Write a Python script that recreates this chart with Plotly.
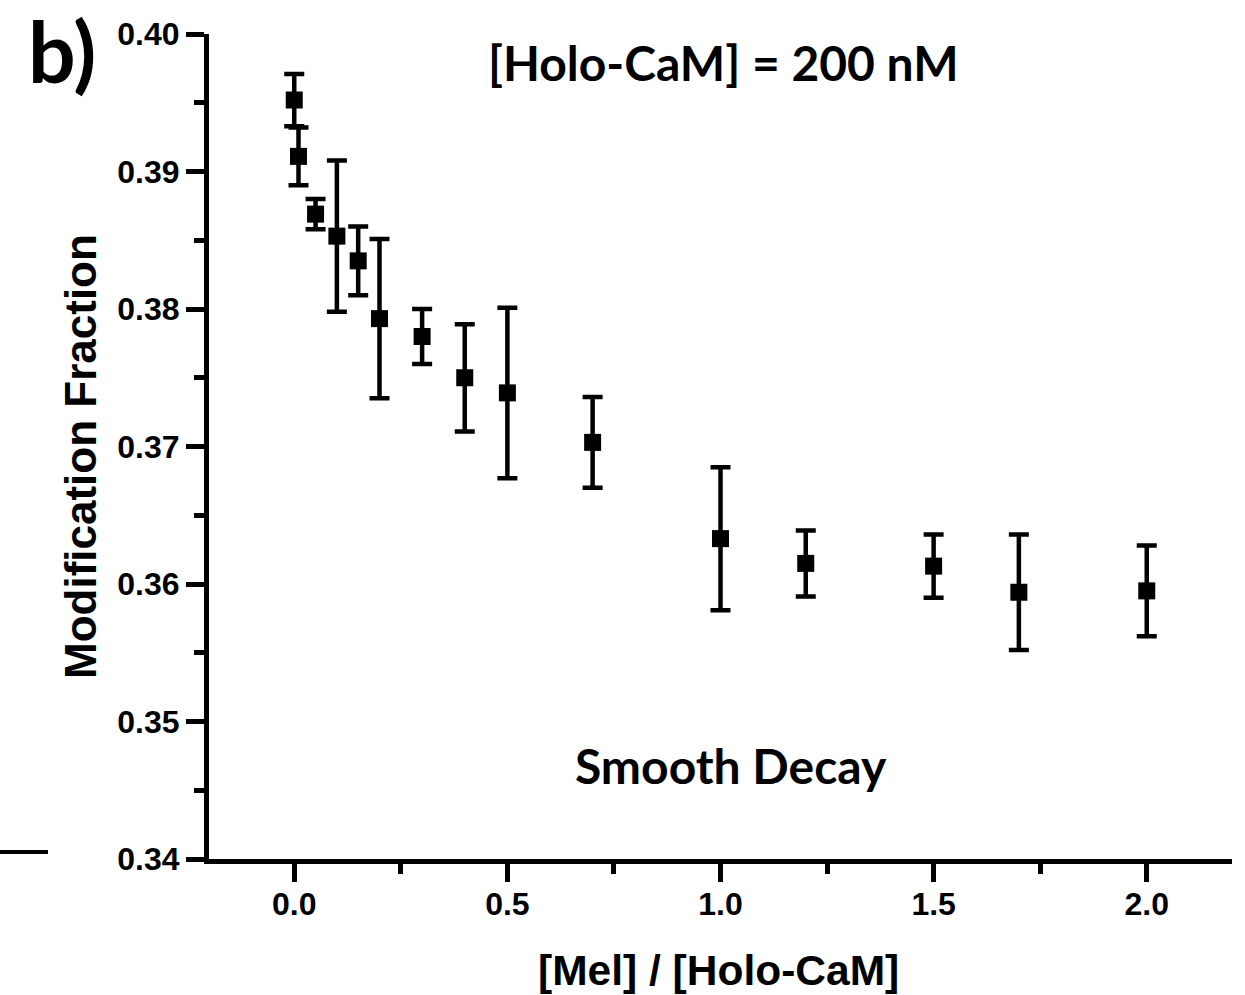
import plotly.graph_objects as go

# Data
ratio = [0.0, 0.01, 0.05, 0.1, 0.15, 0.2, 0.3, 0.4, 0.5, 0.7, 1.0, 1.2, 1.5, 1.7, 2.0]
mod_fraction = [0.3952, 0.3911, 0.3869, 0.3853, 0.3835, 0.3793, 0.3780, 0.3750,
                0.3739, 0.3703, 0.3633, 0.3615, 0.3613, 0.3594, 0.3595]
err = [0.0019, 0.0021, 0.0011, 0.0055, 0.0025, 0.0058, 0.0020, 0.0039,
       0.0062, 0.0033, 0.0052, 0.0024, 0.0023, 0.0042, 0.0033]

x_ticks = [0.0, 0.5, 1.0, 1.5, 2.0]
x_tick_labels = ["0.0", "0.5", "1.0", "1.5", "2.0"]
y_ticks = [0.34, 0.35, 0.36, 0.37, 0.38, 0.39, 0.40]
y_tick_labels = ["0.34", "0.35", "0.36", "0.37", "0.38", "0.39", "0.40"]

W, H = 1245, 995
L, R, T, B = 209, 13, 34, 136
pw, ph = W - L - R, H - T - B

arial = "Liberation Sans, Arial, sans-serif"
calibri = "Lato, Carlito, Calibri, sans-serif"

fig = go.Figure()
fig.add_trace(go.Scatter(
    x=ratio, y=mod_fraction, mode="markers",
    marker=dict(symbol="square", size=17, color="black"),
    error_y=dict(type="data", array=err, visible=True, color="black",
                 thickness=4.5, width=10),
    showlegend=False,
))

axis_common = dict(
    showline=True, linecolor="black", linewidth=5, mirror=False,
    ticks="outside", ticklen=18, tickwidth=5, tickcolor="black",
    showgrid=False, zeroline=False,
    tickfont=dict(family=arial, size=32, color="black", weight="bold"),
)

fig.update_xaxes(
    range=[-0.2, 2.2], tickvals=x_ticks, ticktext=x_tick_labels,
    ticklabelstandoff=-5,
    minor=dict(dtick=0.25, ticks="outside", ticklen=10, tickwidth=5,
               tickcolor="black", showgrid=False),
    **axis_common,
)
fig.update_yaxes(
    range=[0.34, 0.40], tickvals=y_ticks, ticktext=y_tick_labels,
    minor=dict(dtick=0.005, ticks="outside", ticklen=10, tickwidth=5,
               tickcolor="black", showgrid=False),
    **axis_common,
)

def px_x(px):
    return (px - L) / pw

def px_y(py):
    return (H - B - py) / ph

annotations = [
    dict(text="[Mel] / [Holo-CaM]", x=px_x(718), y=px_y(970),
         font=dict(family=arial, size=42.5, color="black", weight="bold")),
    dict(text="Modification Fraction", x=px_x(80), y=px_y(457), textangle=-90,
         font=dict(family=arial, size=44, color="black", weight="bold")),
    dict(text="[Holo-CaM] = 200 nM", x=px_x(723), y=px_y(62),
         font=dict(family=calibri, size=48, color="black", weight="bold")),
    dict(text="Smooth Decay", x=px_x(731), y=px_y(765),
         font=dict(family=calibri, size=48, color="black", weight="bold")),
    dict(text="b)", x=px_x(62), y=px_y(50),
         font=dict(family=calibri, size=84, color="black", weight="bold")),
]
for a in annotations:
    a.update(xref="paper", yref="paper", showarrow=False,
             xanchor="center", yanchor="middle")
fig.update_layout(annotations=annotations)

fig.add_shape(type="line", xref="paper", yref="paper",
              x0=px_x(0), x1=px_x(48), y0=px_y(852), y1=px_y(852),
              line=dict(color="black", width=4))

fig.update_layout(
    width=W, height=H,
    margin=dict(l=L, r=R, t=T, b=B),
    paper_bgcolor="white", plot_bgcolor="white",
)

fig.write_html("out.html")
